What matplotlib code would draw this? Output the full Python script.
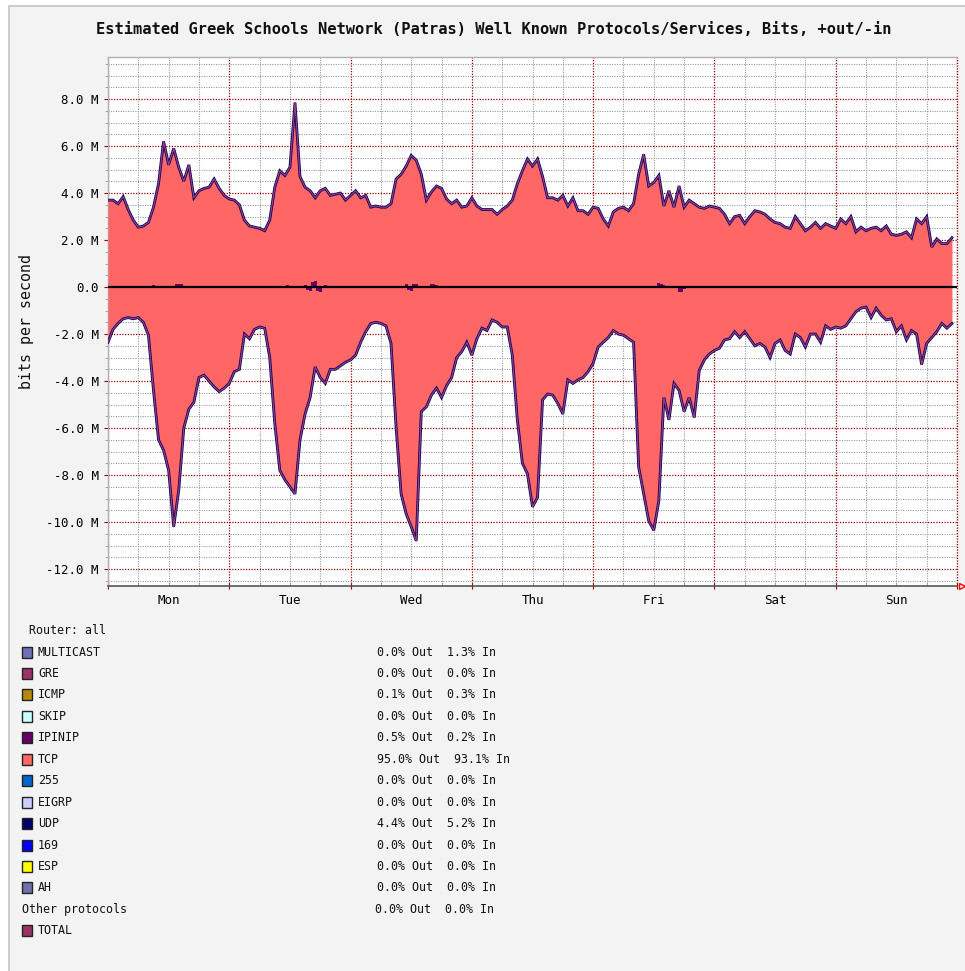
import numpy as np
import matplotlib
matplotlib.use("Agg")
import matplotlib.pyplot as plt
from matplotlib.patches import Rectangle
from matplotlib.ticker import FixedLocator, FixedFormatter, MultipleLocator

# ---------------- data (Mbit/s, hourly from Monday 00:00) ----------------
out_mbps = [
    # Mon
    3.7, 3.7, 3.55, 3.85, 3.3, 2.85, 2.55, 2.6, 2.75, 3.4, 4.4, 6.2,
    5.2, 5.9, 5.1, 4.5, 5.2, 3.8, 4.1, 4.2, 4.25, 4.6, 4.2, 3.9,
    # Tue
    3.75, 3.7, 3.5, 2.85, 2.6, 2.55, 2.5, 2.4, 2.85, 4.25, 4.95, 4.75,
    5.1, 7.85, 4.7, 4.25, 4.1, 3.8, 4.1, 4.2, 3.9, 3.95, 4.0, 3.7,
    # Wed
    3.9, 4.1, 3.8, 3.9, 3.4, 3.45, 3.4, 3.4, 3.55, 4.6, 4.8, 5.15,
    5.6, 5.4, 4.8, 3.7, 4.05, 4.3, 4.2, 3.75, 3.55, 3.7, 3.4, 3.45,
    # Thu
    3.8, 3.45, 3.3, 3.3, 3.3, 3.1, 3.3, 3.45, 3.7, 4.4, 4.95, 5.45,
    5.15, 5.45, 4.7, 3.8, 3.8, 3.7, 3.9, 3.45, 3.8, 3.25, 3.25, 3.1,
    # Fri
    3.4, 3.35, 2.9, 2.6, 3.2, 3.35, 3.4, 3.25, 3.55, 4.8, 5.65, 4.3,
    4.45, 4.75, 3.45, 4.1, 3.4, 4.3, 3.4, 3.7, 3.55, 3.4, 3.35, 3.45,
    # Sat
    3.4, 3.35, 3.1, 2.7, 3.0, 3.05, 2.7, 3.0, 3.25, 3.2, 3.1, 2.9,
    2.75, 2.7, 2.55, 2.5, 3.0, 2.7, 2.4, 2.55, 2.75, 2.5, 2.7, 2.6,
    # Sun
    2.5, 2.9, 2.7, 3.0, 2.35, 2.55, 2.4, 2.5, 2.55, 2.4, 2.6, 2.25,
    2.2, 2.25, 2.35, 2.1, 2.9, 2.7, 3.0, 1.7, 2.05, 1.85, 1.85, 2.1,
]
in_mbps = [
    # Mon
    -2.35, -1.8, -1.55, -1.35, -1.3, -1.35, -1.3, -1.5, -2.05, -4.4, -6.5, -6.95,
    -7.8, -10.2, -8.65, -6.0, -5.2, -4.9, -3.85, -3.75, -4.0, -4.25, -4.45, -4.3,
    # Tue
    -4.1, -3.6, -3.5, -2.0, -2.2, -1.8, -1.7, -1.75, -3.0, -5.8, -7.8, -8.2,
    -8.5, -8.8, -6.5, -5.4, -4.7, -3.4, -3.85, -4.1, -3.5, -3.5, -3.35, -3.2,
    # Wed
    -3.1, -2.9, -2.35, -1.9, -1.55, -1.5, -1.55, -1.65, -2.4, -5.95, -8.8, -9.65,
    -10.2, -10.8, -5.3, -5.1, -4.6, -4.3, -4.7, -4.2, -3.85, -3.0, -2.75, -2.35,
    # Thu
    -2.9, -2.2, -1.75, -1.85, -1.4, -1.5, -1.7, -1.7, -2.9, -5.65, -7.5, -7.95,
    -9.35, -8.95, -4.8, -4.55, -4.6, -4.95, -5.4, -3.95, -4.1, -3.95, -3.85, -3.6,
    # Fri
    -3.25, -2.55, -2.35, -2.15, -1.85, -2.0, -2.05, -2.2, -2.35, -7.65, -8.8, -9.95,
    -10.35, -9.1, -4.7, -5.65, -4.1, -4.4, -5.3, -4.7, -5.55, -3.55, -3.1, -2.85,
    # Sat
    -2.7, -2.6, -2.25, -2.2, -1.9, -2.15, -1.9, -2.2, -2.5, -2.4, -2.55, -3.0,
    -2.4, -2.25, -2.7, -2.85, -2.0, -2.15, -2.55, -2.0, -2.0, -2.35, -1.65, -1.8,
    # Sun
    -1.7, -1.75, -1.65, -1.35, -1.05, -0.9, -0.85, -1.3, -0.9, -1.2, -1.4, -1.35,
    -1.9, -1.65, -2.25, -1.85, -2.0, -3.3, -2.4, -2.15, -1.9, -1.55, -1.75, -1.55,
]
# small IP-in-IP / multicast blobs around the zero line
blob_hours = [9, 10, 13.5, 14, 14.5, 35.5, 39, 39.5, 40, 40.5, 41, 41.5, 42, 43,
              59, 59.5, 60, 60.5, 61, 64, 64.5, 65, 109, 109.5, 110, 113, 113.5, 114]
blob_mbps = [0.08, 0.05, 0.12, 0.15, 0.12, 0.1, 0.1, -0.12, -0.15, 0.2, 0.25, -0.18, -0.2, 0.1,
             0.12, -0.12, -0.15, 0.15, 0.15, 0.15, 0.12, 0.1,
             0.18, 0.15, 0.1, -0.2, -0.22, -0.1]

days = ["Mon", "Tue", "Wed", "Thu", "Fri", "Sat", "Sun"]
y_ticks = [8, 6, 4, 2, 0, -2, -4, -6, -8, -10, -12]
y_tick_labels = ["8.0 M", "6.0 M", "4.0 M", "2.0 M", "0.0", "-2.0 M", "-4.0 M",
                 "-6.0 M", "-8.0 M", "-10.0 M", "-12.0 M"]

legend_names = ["MULTICAST", "GRE", "ICMP", "SKIP", "IPINIP", "TCP", "255", "EIGRP",
                "UDP", "169", "ESP", "AH", "Other protocols", "TOTAL"]
legend_colors = ["#7070b8", "#993366", "#b8860b", "#ccffff", "#660066", "#ff6666", "#0066cc",
                 "#ccccff", "#000066", "#0000ff", "#ffff00", "#6f6fab", None, "#993366"]
pct_out = [0.0, 0.0, 0.1, 0.0, 0.5, 95.0, 0.0, 0.0, 4.4, 0.0, 0.0, 0.0, 0.0, None]
pct_in = [1.3, 0.0, 0.3, 0.0, 0.2, 93.1, 0.0, 0.0, 5.2, 0.0, 0.0, 0.0, 0.0, None]

title = "Estimated Greek Schools Network (Patras) Well Known Protocols/Services, Bits, +out/-in"

# ---------------- figure ----------------
W, H = 965, 971
MONO = "DejaVu Sans Mono"
fig = plt.figure(figsize=(W / 100, H / 100), dpi=100, facecolor="white")

def fx(px):
    return px / W

def fy(py):
    return 1 - py / H

# panel background with thin frame
fig.patches.append(Rectangle((fx(9), fy(980)), fx(970) - fx(9), fy(6) - fy(980),
                             transform=fig.transFigure, facecolor="#f3f3f3",
                             edgecolor="#c4c4c4", lw=1.2, zorder=-5))

ax = fig.add_axes([fx(108), fy(586), fx(957) - fx(108), fy(57) - fy(586)])
ax.set_zorder(1)
ax.set_facecolor("white")

hours = np.arange(len(out_mbps), dtype=float)
out_a = np.array(out_mbps)
in_a = np.array(in_mbps)

ax.fill_between(hours, 0, out_a, color="#ff6666", lw=0, zorder=3)
ax.fill_between(hours, in_a, 0, color="#ff6666", lw=0, zorder=3)
for s in (out_a, in_a):
    ax.plot(hours, s, color="#000066", lw=2.0, zorder=4, solid_joinstyle="miter")
    ax.plot(hours, s, color="#9b3d74", lw=0.9, zorder=5)

ax.bar(blob_hours, blob_mbps, width=0.6, color="#660066", zorder=6)
ax.axhline(0, color="black", lw=1.6, zorder=7)

ax.set_xlim(0, 168)
ax.set_ylim(-12.72, 9.79)

# grid / ticks
ax.xaxis.set_major_locator(MultipleLocator(24))
minor_x = [h for h in range(6, 168, 6) if h % 24]
ax.xaxis.set_minor_locator(FixedLocator(minor_x))
ax.xaxis.set_major_formatter(FixedFormatter([""] * 20))
ax.xaxis.set_minor_formatter(FixedFormatter(
    [days[h // 24] if h % 24 == 12 else "" for h in minor_x]))
ax.set_yticks(y_ticks)
ax.set_yticklabels(y_tick_labels)
ax.yaxis.set_minor_locator(MultipleLocator(0.5))

ax.grid(which="major", color="#990000", linestyle=(0, (1, 1.2)), lw=0.9, zorder=2)
ax.grid(which="minor", color="#9a9a9a", linestyle=(0, (1, 1.2)), lw=0.8, zorder=1)
ax.set_axisbelow(True)
ax.axvline(168, color="#990000", linestyle=(0, (1, 1.2)), lw=0.9, clip_on=False, zorder=2)

ax.tick_params(axis="y", which="major", direction="out", length=3, color="#990000",
               labelsize=9, pad=3.5, labelfontfamily=MONO)
ax.tick_params(axis="y", which="minor", direction="out", length=2, color="#999999")
ax.tick_params(axis="x", which="major", direction="inout", length=5, color="#990000")
ax.tick_params(axis="x", which="minor", direction="in", length=3, color="#999999",
               labelsize=9, pad=6, labelfontfamily=MONO)

for side in ("left", "top"):
    ax.spines[side].set_color("#b0b0b0")
    ax.spines[side].set_linewidth(1.0)
ax.spines["bottom"].set_color("#555555")
ax.spines["bottom"].set_linewidth(1.2)
ax.spines["right"].set_visible(False)

# red arrow at the end of the x axis
ax.plot([169.0], [-12.72], marker=">", markersize=5, markerfacecolor="none",
        markeredgecolor="red", markeredgewidth=1, clip_on=False, zorder=10)

# texts
fig.text(fx(494), fy(30), title, ha="center", va="center", fontsize=11.1,
         fontweight="bold", family=MONO, color="#111111")
fig.text(fx(27), fy(321), "bits per second", rotation=90, ha="center", va="center",
         fontsize=10.8, family=MONO, color="#111111")

# legend
fig.text(fx(29), fy(631), "Router: all", ha="left", va="center", fontsize=8.4,
         family=MONO, color="#111111")
row0, step = 652, 21.45
for i, name in enumerate(legend_names):
    yc = row0 + i * step
    col = legend_colors[i]
    if col is not None:
        fig.patches.append(Rectangle((fx(22), fy(yc + 5.5)), fx(10), fy(yc - 5.5) - fy(yc + 5.5),
                                     transform=fig.transFigure, facecolor=col,
                                     edgecolor="#222222", lw=1.0, zorder=5))
        fig.text(fx(38), fy(yc), name, ha="left", va="center", fontsize=8.4,
                 family=MONO, color="#111111")
    else:
        fig.text(fx(22), fy(yc), name, ha="left", va="center", fontsize=8.4,
                 family=MONO, color="#111111")
    if pct_out[i] is not None:
        fig.text(fx(377 if col is not None else 375), fy(yc),
                 f"{pct_out[i]:.1f}% Out  {pct_in[i]:.1f}% In",
                 ha="left", va="center", fontsize=8.4, family=MONO, color="#111111")

fig.savefig("out.png", dpi=100, facecolor=fig.get_facecolor())
